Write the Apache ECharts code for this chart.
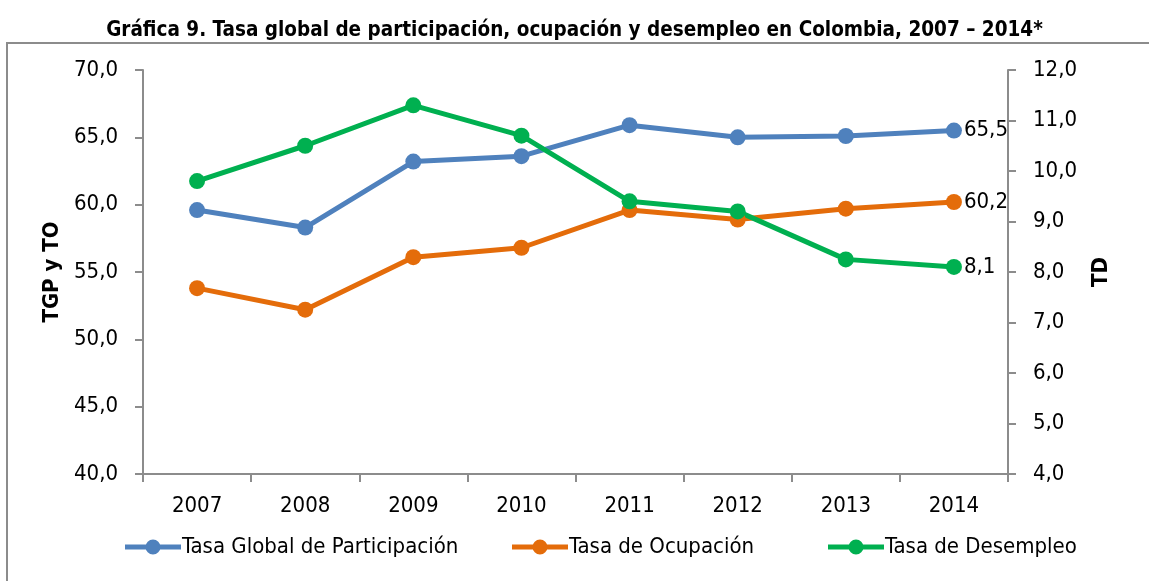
<!DOCTYPE html>
<html><head><meta charset="utf-8">
<script src="https://cdn.jsdelivr.net/npm/echarts@6/dist/echarts.min.js"></script>
<style>html,body{margin:0;padding:0;background:#fff}#c{width:1149px;height:581px}</style>
</head><body><div id="c"></div>
<script>
var years = ['2007','2008','2009','2010','2011','2012','2013','2014'];
var tgp = [59.6, 58.3, 63.2, 63.6, 65.9, 65.0, 65.1, 65.5];
var to = [53.8, 52.2, 56.1, 56.8, 59.6, 58.9, 59.7, 60.2];
var td = [9.8, 10.5, 11.3, 10.7, 9.4, 9.2, 8.25, 8.1];
var names = ['Tasa Global de Participación', 'Tasa de Ocupación', 'Tasa de Desempleo'];
var legendLeft = [120, 507, 823];
var F = "'Liberation Sans Narrow','Arial Narrow','DejaVu Sans Condensed',sans-serif";
var ICON = 'path://M0,5.5L56,5.5L56,10.5L0,10.5Z M20.5,8A7.5,7.5 0 1 1 35.5,8A7.5,7.5 0 1 1 20.5,8Z';
var chart = echarts.init(document.getElementById('c'));
function fmt(v){ return v.toFixed(1).replace('.', ','); }
function mk(name, data, color, yi){
  return {name:name, type:'line', yAxisIndex:yi, data:data, symbol:'circle', symbolSize:16,
    lineStyle:{width:5,color:color}, itemStyle:{color:color},
    label:{show:true, position:'right', distance:2,
      formatter:function(p){ return p.dataIndex === years.length-1 ? fmt(p.value) : ''; },
      fontFamily:F, fontSize:22, color:'#000'}};
}
var axisCommon = {axisLine:{show:true,lineStyle:{color:'#8c8c8c',width:2}}, axisTick:{show:true,length:8,lineStyle:{color:'#8c8c8c',width:2}}, splitLine:{show:false}};
var legends = names.map(function(n, i){
  return {bottom:18, left:legendLeft[i], itemWidth:56, itemHeight:16, icon:ICON,
    textStyle:{fontFamily:F, fontSize:22, color:'#000', padding:[0,0,0,-4]}, data:[n]};
});
chart.setOption({
  animation:false,
  title:{text:'Gráfica 9. Tasa global de participación, ocupación y desempleo en Colombia, 2007 – 2014*', left:'center', top:15,
    textStyle:{fontFamily:F, fontSize:20.5, fontWeight:'bold', color:'#000'}},
  graphic:[{type:'rect', shape:{x:7,y:43,width:1200,height:600}, style:{fill:'none', stroke:'#8c8c8c', lineWidth:2}, silent:true}],
  grid:{left:143, right:141, top:70, bottom:107},
  legend:legends,
  xAxis:Object.assign({type:'category', data:years, boundaryGap:true,
    axisLabel:{fontFamily:F, fontSize:22, color:'#000', margin:21}}, axisCommon),
  yAxis:[
    Object.assign({type:'value', min:40, max:70, interval:5, position:'left',
      name:'TGP y TO', nameLocation:'middle', nameGap:80, nameRotate:90,
      nameTextStyle:{fontFamily:F, fontSize:22, fontWeight:'bold', color:'#000'},
      axisLabel:{fontFamily:F, fontSize:22, color:'#000', margin:25, formatter:fmt}}, axisCommon),
    Object.assign({type:'value', min:4, max:12, interval:1, position:'right',
      name:'TD', nameLocation:'middle', nameGap:82, nameRotate:90,
      nameTextStyle:{fontFamily:F, fontSize:22, fontWeight:'bold', color:'#000'},
      axisLabel:{fontFamily:F, fontSize:22, color:'#000', margin:25, formatter:fmt}}, axisCommon)
  ],
  series:[mk(names[0], tgp, '#4F81BD', 0), mk(names[1], to, '#E46C0A', 0), mk(names[2], td, '#00B050', 1)]
});
</script></body></html>
